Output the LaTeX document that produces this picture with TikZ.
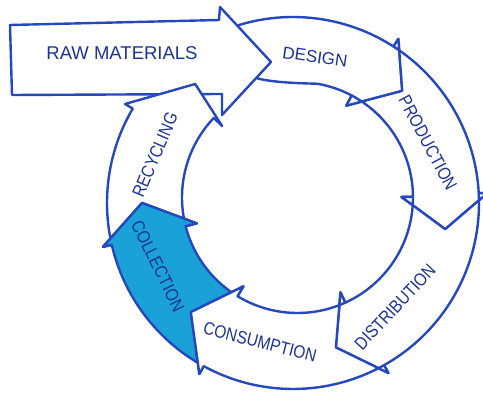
\documentclass[tikz,border=0pt]{standalone}
\usepackage{fontspec}
\newfontfamily\handA[FakeStretch=0.86]{Liberation Sans}
\newfontfamily\handB{Liberation Sans}
\usetikzlibrary{calc}
\definecolor{lineblue}{HTML}{2648BE}
\definecolor{textblue}{HTML}{1C3296}
\definecolor{fillblue}{HTML}{1AA2D8}
\tikzset{
  arrowbox/.style={draw=lineblue, line width=2.4pt, line join=round, fill=white},
  lbl/.style={text=textblue, font=\handA\fontsize{18}{18}\selectfont, inner sep=0pt},
  lblwide/.style={text=textblue, font=\handB\fontsize{18.5}{18.5}\selectfont, inner sep=0pt}
}
% #1 style, #2 tail outer angle, #3 tail inner angle, #4 head outer angle,
% #5 head inner angle, #6 tip angle, #7 previous tip angle
\newcommand{\ringarrow}[7]{%
  \path[#1] ($(Co)+(#2:186)$) arc[start angle=#2, end angle=#4, radius=186pt]
    -- ($(Co)+(#4:195)$) -- ($(Cm)+(#6:153)$) -- ($(Ci)+(#5:104)$)
    -- ($(Ci)+(#5:115.5)$) arc[start angle=#5, end angle=#3, radius=115.5pt]
    -- ($(Ci)+(#3:104)$) -- ($(Cm)+(#7:153)$) -- ($(Co)+(#2:195)$) -- cycle;}
\begin{document}
\begin{tikzpicture}[x=1pt,y=1pt]
\useasboundingbox (0,0) rectangle (483,394);
\coordinate (Co) at (293,191);
\coordinate (Ci) at (297.5,196.5);
\coordinate (Cm) at (295,194);
% Design
\path[arrowbox] ($(Co)+(109:186)$) arc[start angle=109, end angle=57.3, radius=186pt]
  -- ($(Co)+(57.3:195)$) -- ($(Cm)+(45.5:153)$) -- ($(Ci)+(62:104)$)
  -- ($(Ci)+(62:115.5)$) arc[start angle=62, end angle=80, radius=115.5pt]
  .. controls (290,311) and (265,312) .. (250,318) -- (240,360) -- cycle;
% Production
\ringarrow{arrowbox}{57.3}{62}{3}{0.3}{-11}{45.5}
% Distribution
\ringarrow{arrowbox}{3}{0.3}{-60.7}{-65.6}{-74.5}{-11}
% Raw materials
\path[arrowbox] (10,369) -- (219,374) -- (220,387) -- (271,332) -- (222,279)
  -- (222,300) -- (12,299) -- cycle;
% Recycling
\ringarrow{arrowbox}{193}{194.4}{149.5}{136.5}{130.7}{181.1}
% Collection
\ringarrow{arrowbox,fill=fillblue}{-118.7}{-121.3}{-167}{-165.6}{-178.9}{-132.9}
% Consumption
\ringarrow{arrowbox}{-60.7}{-65.6}{-118.7}{-121.3}{-132.9}{-74.5}
% Labels
\node[lblwide] (raw) at (122,341) {RAW MATERIALS};
\node[lblwide, font=\handB\fontsize{17}{17}\selectfont, rotate=-8] (design) at (315,337) {DESIGN};
\node[lbl, rotate=-62] (production) at (428,251) {PRODUCTION};
\node[lbl, rotate=47] (distribution) at (395,87) {DISTRIBUTION};
\node[lbl, rotate=-14.5] (consumption) at (260,52) {CONSUMPTION};
\node[lbl, rotate=-64] (collection) at (158,128) {COLLECTION};
\node[lbl, rotate=67] (recycling) at (155,239) {RECYCLING};
\end{tikzpicture}
\end{document}
